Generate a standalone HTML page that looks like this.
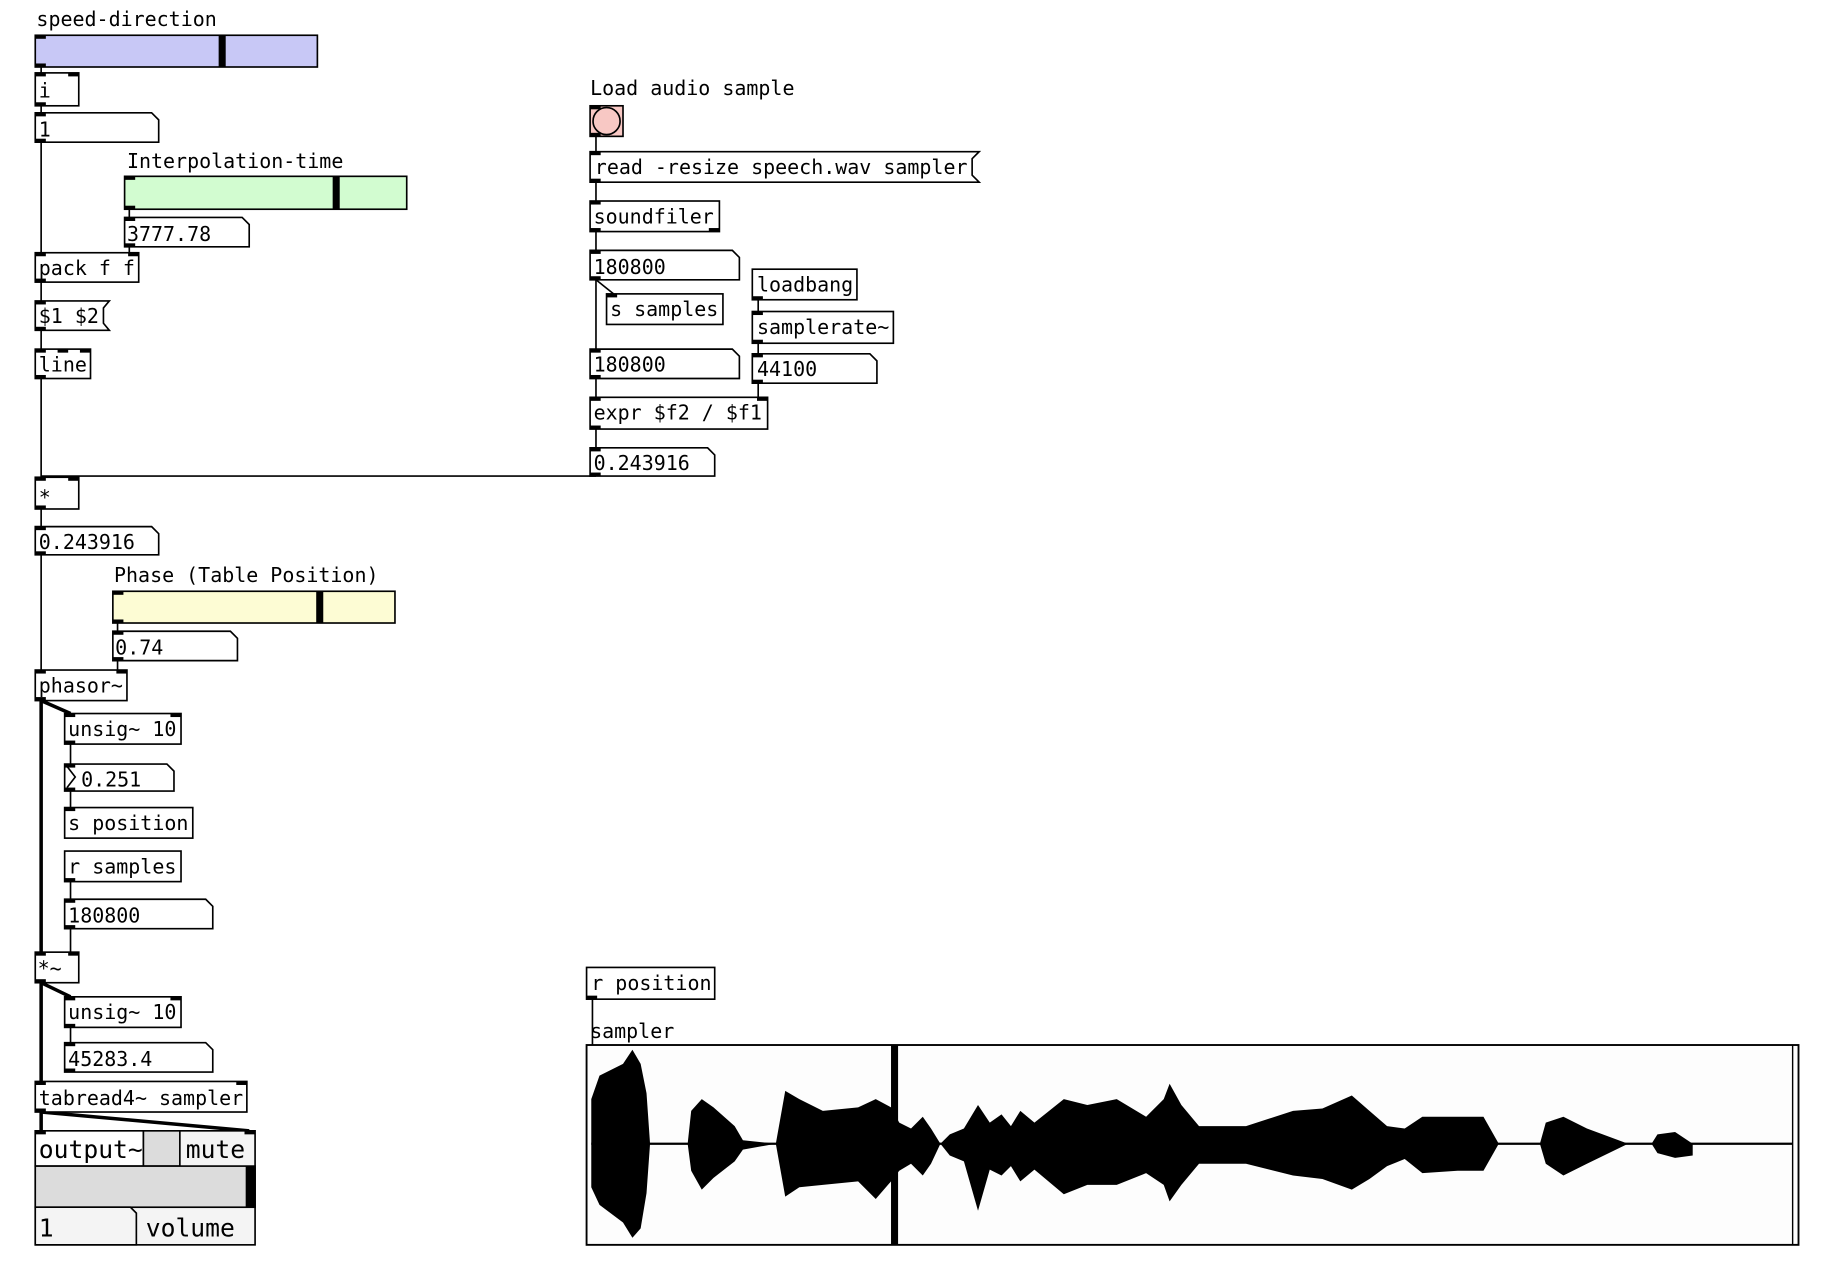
<!DOCTYPE html>
<html><head><meta charset="utf-8"><style>
html,body{margin:0;padding:0;background:#fff;}
svg{display:block;}
text{font-family:"DejaVu Sans Mono","Liberation Mono",monospace;font-size:17px;fill:#000;}
</style></head><body>
<svg width="1842" height="1284" viewBox="0 0 1567 1092" preserveAspectRatio="xMinYMin meet" xmlns="http://www.w3.org/2000/svg">
<g fill="none" stroke="#000" stroke-width="1.4">
<line x1="35" y1="57" x2="35" y2="406"/>
<line x1="35" y1="433" x2="35" y2="570"/>
<line x1="110" y1="178" x2="110" y2="185"/>
<line x1="110" y1="210" x2="110" y2="215"/>
<line x1="100" y1="530" x2="100" y2="537"/>
<line x1="100" y1="562" x2="100" y2="570"/>
<line x1="35" y1="405" x2="507" y2="405"/>
<line x1="507" y1="116" x2="507" y2="129"/>
<line x1="507" y1="155" x2="507" y2="171"/>
<line x1="507" y1="197" x2="507" y2="213"/>
<line x1="507" y1="238" x2="507" y2="297"/>
<line x1="507" y1="238" x2="522" y2="250"/>
<line x1="507" y1="322" x2="507" y2="338"/>
<line x1="507" y1="365" x2="507" y2="381"/>
<line x1="645" y1="255" x2="645" y2="265"/>
<line x1="645" y1="292" x2="645" y2="301"/>
<line x1="645" y1="326" x2="645" y2="338"/>
<line x1="60" y1="633" x2="60" y2="650"/>
<line x1="60" y1="673" x2="60" y2="687"/>
<line x1="60" y1="750" x2="60" y2="765"/>
<line x1="60" y1="790" x2="60" y2="810"/>
<line x1="60" y1="874" x2="60" y2="887"/>
<line x1="504" y1="850" x2="504" y2="889"/>
</g>
<g fill="none" stroke="#000" stroke-width="3">
<line x1="35" y1="596" x2="35" y2="810"/>
<line x1="35" y1="596" x2="60" y2="607"/>
<line x1="35" y1="836" x2="35" y2="920"/>
<line x1="35" y1="836" x2="60" y2="848"/>
<line x1="35" y1="946" x2="35" y2="962"/>
<line x1="35" y1="946" x2="212" y2="962"/>
</g>

<rect x="30" y="30" width="240" height="27" fill="#c8c8f6" stroke="#000" stroke-width="1.4"/>
<rect x="186" y="30" width="6" height="27" fill="#000"/>
<rect x="106" y="150" width="240" height="28" fill="#d2fcd0" stroke="#000" stroke-width="1.4"/>
<rect x="283" y="150" width="6" height="28" fill="#000"/>
<rect x="96" y="503" width="240" height="27" fill="#fdfcd4" stroke="#000" stroke-width="1.4"/>
<rect x="269" y="503" width="6" height="27" fill="#000"/>

<g fill="#fff" stroke="#000" stroke-width="1.4">
<rect x="30" y="62" width="37" height="28"/>
<rect x="30" y="215" width="88" height="25"/>
<rect x="30" y="297" width="47" height="25"/>
<rect x="30" y="406" width="37" height="27"/>
<rect x="30" y="570" width="78" height="26"/>
<rect x="55" y="607" width="99" height="26"/>
<rect x="55" y="687" width="109" height="26"/>
<rect x="55" y="724" width="99" height="26"/>
<rect x="30" y="810" width="37" height="26"/>
<rect x="55" y="848" width="99" height="26"/>
<rect x="30" y="920" width="180" height="26"/>
<rect x="502" y="171" width="110" height="26"/>
<rect x="516" y="250" width="99" height="26"/>
<rect x="640" y="229" width="89" height="26"/>
<rect x="640" y="265" width="120" height="27"/>
<rect x="502" y="338" width="151" height="27"/>
<rect x="499" y="823" width="109" height="27"/>
<path d="M30 96H129L135 102V121H30Z"/>
<path d="M106 185H206L212 191V210H106Z"/>
<path d="M30 448H129L135 454V472H30Z"/>
<path d="M96 537H196L202 543V562H96Z"/>
<path d="M55 650H142L148 656V673H55Z"/>
<path d="M55 765H175L181 771V790H55Z"/>
<path d="M55 887H175L181 893V912H55Z"/>
<path d="M502 213H623L629 219V238H502Z"/>
<path d="M502 297H623L629 303V322H502Z"/>
<path d="M640 301H740L746 307V326H640Z"/>
<path d="M502 381H602L608 387V405H502Z"/>
<path d="M30 256H93L88 262V275L93 281H30Z"/>
<path d="M502 129H833L827 135V149L833 155H502Z"/>
</g>
<path d="M57 652L64 661L57 670" fill="none" stroke="#000" stroke-width="1.4"/>

<rect x="502" y="90" width="28" height="26" fill="#f8c8c4" stroke="#000" stroke-width="1.4"/>
<circle cx="516" cy="103" r="11.5" fill="#f8c8c4" stroke="#000" stroke-width="1.4"/>

<rect x="30" y="962" width="187" height="97" fill="#f4f4f4" stroke="#000" stroke-width="1.4"/>
<rect x="30" y="962" width="92" height="30" fill="#fff" stroke="#000" stroke-width="1.4"/>
<rect x="122" y="962" width="31" height="30" fill="#dcdcdc" stroke="#000" stroke-width="1.4"/>
<rect x="30" y="992" width="187" height="35" fill="#dcdcdc" stroke="#000" stroke-width="1.4"/>
<rect x="209" y="992" width="8" height="35" fill="#000"/>
<path d="M30 1027H111L116 1032V1059H30Z" fill="#f4f4f4" stroke="#000" stroke-width="1.4"/>

<g fill="#000">
<rect x="30" y="30" width="9" height="3"/><rect x="30" y="54" width="9" height="3"/>
<rect x="106" y="150" width="9" height="3"/><rect x="106" y="175" width="9" height="3"/>
<rect x="96" y="503" width="9" height="3"/><rect x="96" y="527" width="9" height="3"/>
<rect x="30" y="62" width="9" height="3"/><rect x="58" y="62" width="9" height="3"/><rect x="30" y="87" width="9" height="3"/>
<rect x="30" y="96" width="9" height="3"/><rect x="30" y="118" width="9" height="3"/>
<rect x="106" y="185" width="9" height="3"/><rect x="106" y="207" width="9" height="3"/>
<rect x="30" y="215" width="9" height="3"/><rect x="109" y="215" width="9" height="3"/><rect x="30" y="237" width="9" height="3"/>
<rect x="30" y="256" width="9" height="3"/><rect x="30" y="278" width="9" height="3"/>
<rect x="30" y="297" width="9" height="3"/><rect x="49" y="297" width="9" height="3"/><rect x="68" y="297" width="9" height="3"/><rect x="30" y="319" width="9" height="3"/>
<rect x="30" y="406" width="9" height="3"/><rect x="58" y="406" width="9" height="3"/><rect x="30" y="430" width="9" height="3"/>
<rect x="30" y="448" width="9" height="3"/><rect x="30" y="469" width="9" height="3"/>
<rect x="96" y="537" width="9" height="3"/><rect x="96" y="559" width="9" height="3"/>
<rect x="30" y="570" width="9" height="3"/><rect x="99" y="570" width="9" height="3"/><rect x="30" y="593" width="9" height="3"/>
<rect x="55" y="607" width="9" height="3"/><rect x="145" y="607" width="9" height="3"/><rect x="55" y="630" width="9" height="3"/>
<rect x="55" y="650" width="9" height="3"/><rect x="55" y="670" width="9" height="3"/>
<rect x="55" y="687" width="9" height="3"/>
<rect x="55" y="747" width="9" height="3"/>
<rect x="55" y="765" width="9" height="3"/><rect x="55" y="787" width="9" height="3"/>
<rect x="30" y="810" width="9" height="3"/><rect x="58" y="810" width="9" height="3"/><rect x="30" y="833" width="9" height="3"/>
<rect x="55" y="848" width="9" height="3"/><rect x="145" y="848" width="9" height="3"/><rect x="55" y="871" width="9" height="3"/>
<rect x="55" y="887" width="9" height="3"/><rect x="55" y="909" width="9" height="3"/>
<rect x="30" y="920" width="9" height="3"/><rect x="201" y="920" width="9" height="3"/><rect x="30" y="943" width="9" height="3"/>
<rect x="30" y="962" width="9" height="3"/><rect x="208" y="962" width="9" height="3"/>
<rect x="502" y="90" width="9" height="3"/><rect x="502" y="113" width="9" height="3"/>
<rect x="502" y="129" width="9" height="3"/><rect x="502" y="152" width="9" height="3"/>
<rect x="502" y="171" width="9" height="3"/><rect x="502" y="194" width="9" height="3"/><rect x="603" y="194" width="9" height="3"/>
<rect x="502" y="213" width="9" height="3"/><rect x="502" y="235" width="9" height="3"/>
<rect x="516" y="250" width="9" height="3"/>
<rect x="640" y="252" width="9" height="3"/>
<rect x="640" y="265" width="9" height="3"/><rect x="640" y="289" width="9" height="3"/>
<rect x="640" y="301" width="9" height="3"/><rect x="640" y="323" width="9" height="3"/>
<rect x="502" y="297" width="9" height="3"/><rect x="502" y="319" width="9" height="3"/>
<rect x="502" y="338" width="9" height="3"/><rect x="644" y="338" width="9" height="3"/><rect x="502" y="362" width="9" height="3"/>
<rect x="502" y="381" width="9" height="3"/><rect x="502" y="402" width="9" height="3"/>
<rect x="499" y="847" width="9" height="3"/>
<rect x="499" y="889" width="9" height="3"/><rect x="499" y="1056" width="9" height="3"/>
</g>

<rect x="499" y="889" width="1031" height="170" fill="#fdfdfd" stroke="#000" stroke-width="1.6"/>
<line x1="1525" y1="889" x2="1525" y2="1059" stroke="#000" stroke-width="1.2"/>
<line x1="503" y1="973" x2="1525" y2="973" stroke="#000" stroke-width="2"/>
<polygon fill="#000" points="503,935 510,915 530,905 538,893 545,905 550,930 553,973 585,973 588,945 597,935 607,942 625,958 632,970 660,973 668,928 680,935 700,945 730,942 745,935 758,942 765,955 775,960 785,950 792,960 800,973 808,965 820,960 832,940 842,955 852,948 860,958 868,945 880,955 905,935 925,940 950,935 975,950 990,935 995,922 1005,940 1020,958 1060,958 1100,945 1125,943 1150,932 1165,945 1180,958 1195,960 1210,950 1240,950 1262,950 1275,973 1310,973 1315,955 1330,950 1350,960 1385,973 1405,973 1410,965 1425,963 1440,973 1440,983 1425,985 1410,981 1405,973 1385,973 1350,990 1330,1000 1315,990 1310,973 1275,973 1262,996 1240,996 1210,998 1195,986 1180,992 1165,1003 1150,1012 1125,1003 1100,1000 1060,990 1020,990 1005,1008 995,1022 990,1008 975,998 950,1008 925,1008 905,1016 880,995 868,1005 860,992 852,1000 842,995 832,1030 820,988 808,983 800,973 792,990 785,1000 775,990 765,996 758,1005 745,1020 730,1005 700,1008 680,1010 668,1018 660,973 632,978 625,988 607,1002 597,1012 588,996 585,973 553,973 550,1015 545,1045 538,1053 530,1040 510,1025 503,1010"/>
<rect x="758" y="889" width="6" height="170" fill="#000"/>

<text x="31" y="22">speed-direction</text>
<text x="33" y="83">i</text>
<text x="33" y="116">1</text>
<text x="108" y="143">Interpolation-time</text>
<text x="108" y="205">3777.78</text>
<text x="33" y="234">pack f f</text>
<text x="33" y="275">$1 $2</text>
<text x="33" y="316">line</text>
<text x="33" y="429">*</text>
<text x="33" y="467">0.243916</text>
<text x="97" y="495">Phase (Table Position)</text>
<text x="98" y="557">0.74</text>
<text x="33" y="589">phasor~</text>
<text x="58" y="626">unsig~ 10</text>
<text x="69" y="669">0.251</text>
<text x="58" y="706">s position</text>
<text x="58" y="743">r samples</text>
<text x="58" y="785">180800</text>
<text x="32" y="830">*~</text>
<text x="58" y="867">unsig~ 10</text>
<text x="58" y="907">45283.4</text>
<text x="33" y="940">tabread4~ sampler</text>
<text x="33" y="985" style="font-size:21px">output~</text>
<text x="158" y="985" style="font-size:21px">mute</text>
<text x="33" y="1052" style="font-size:21px">1</text>
<text x="124" y="1052" style="font-size:21px">volume</text>
<text x="502" y="81">Load audio sample</text>
<text x="506" y="148">read -resize speech.wav sampler</text>
<text x="505" y="190">soundfiler</text>
<text x="505" y="233">180800</text>
<text x="519" y="269">s samples</text>
<text x="644" y="248">loadbang</text>
<text x="644" y="284">samplerate~</text>
<text x="644" y="320">44100</text>
<text x="505" y="316">180800</text>
<text x="505" y="357">expr $f2 / $f1</text>
<text x="505" y="400">0.243916</text>
<text x="503" y="842">r position</text>
<text x="502" y="883">sampler</text>
</svg>
</body></html>
